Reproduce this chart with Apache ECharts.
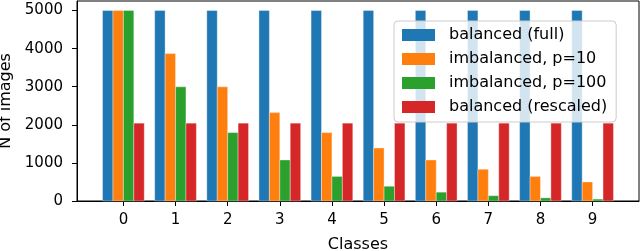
<!DOCTYPE html>
<html><head><meta charset="utf-8">
<script src="https://cdn.jsdelivr.net/npm/echarts@6/dist/echarts.min.js"></script>
<style>html,body{margin:0;padding:0;background:#fff}#c{width:640px;height:251px}</style>
</head><body><div id="c"></div>
<script>
const classes = [0,1,2,3,4,5,6,7,8,9];
const seriesNames = ['balanced (full)','imbalanced, p=10','imbalanced, p=100','balanced (rescaled)'];
const balancedFull = [5000,5000,5000,5000,5000,5000,5000,5000,5000,5000];
const imbalanced10 = [5000,3871,2997,2320,1796,1391,1077,834,645,500];
const imbalanced100 = [5000,2997,1796,1077,645,387,232,139,83,50];
const balancedRescaled = [2043,2043,2043,2043,2043,2043,2043,2043,2043,2043];
const yTicks = [0,1000,2000,3000,4000,5000];

const colors = ['#1f77b4','#ff7f0e','#2ca02c','#d62728'];
const offsets = [-0.3,-0.1,0.1,0.3];
const values = [balancedFull, imbalanced10, imbalanced100, balancedRescaled];
const FONT = "'DejaVu Sans', sans-serif";

const series = values.map((vals, i) => ({
  type: 'custom',
  name: seriesNames[i],
  itemStyle: {color: colors[i]},
  data: classes.map((c, j) => [c, vals[j]]),
  renderItem: function (params, api) {
    const x = api.value(0), y = api.value(1);
    const a = api.coord([x + offsets[i] - 0.1, y]);
    const b = api.coord([x + offsets[i] + 0.1, 0]);
    return {type: 'rect',
      shape: {x: a[0], y: a[1], width: b[0] - a[0], height: b[1] - a[1]},
      style: {fill: colors[i], stroke: 'rgba(255,255,255,0.35)', lineWidth: 1}};
  }
}));

const chart = echarts.init(document.getElementById('c'), null, {renderer: 'canvas'});
chart.setOption({
  animation: false,
  backgroundColor: '#fff',
  textStyle: {fontFamily: FONT},
  grid: {left: 77, right: 1, top: 1, bottom: 50, show: true, borderColor: '#000', borderWidth: 1,
         containLabel: false, outerBoundsMode: 'none'},
  xAxis: {
    type: 'value', min: -0.89, max: 9.89,
    name: 'Classes', nameLocation: 'middle', nameGap: 36,
    nameTextStyle: {fontFamily: FONT, fontSize: 16, color: '#000'},
    axisLine: {show: true, onZero: false, lineStyle: {color: '#000', width: 1}},
    axisTick: {show: true, length: 5, lineStyle: {color: '#000'}, customValues: classes},
    axisLabel: {fontFamily: FONT, fontSize: 15, color: '#000', margin: 12, customValues: classes,
                formatter: v => String(v)},
    splitLine: {show: false}
  },
  yAxis: {
    type: 'value', min: 0, max: 5250,
    name: 'N of images', nameLocation: 'middle', nameGap: 60, nameRotate: 90,
    nameTextStyle: {fontFamily: FONT, fontSize: 16, color: '#000'},
    axisLine: {show: true, onZero: false, lineStyle: {color: '#000', width: 1}},
    axisTick: {show: true, length: 5, lineStyle: {color: '#000'}, customValues: yTicks},
    axisLabel: {fontFamily: FONT, fontSize: 15, color: '#000', margin: 14, customValues: yTicks,
                formatter: v => String(v)},
    splitLine: {show: false}
  },
  legend: {
    orient: 'vertical', left: 394, top: 21,
    data: seriesNames,
    icon: 'rect', itemWidth: 33, itemHeight: 12, itemGap: 8,
    padding: [6, 9, 7, 8],
    backgroundColor: 'rgba(255,255,255,0.8)', borderColor: '#cccccc', borderWidth: 1, borderRadius: 4,
    textStyle: {fontFamily: FONT, fontSize: 16, color: '#000', lineHeight: 16, padding: [0, 0, 0, 9]}
  },
  series: series
});
</script></body></html>
